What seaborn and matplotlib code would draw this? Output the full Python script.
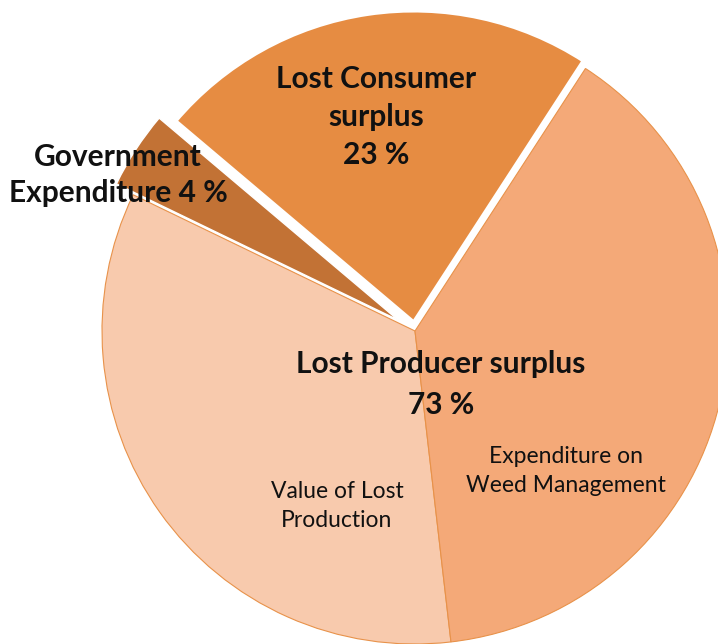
import matplotlib
matplotlib.use("Agg")
import matplotlib.pyplot as plt
import seaborn as sns

sns.set_theme(style="white")
plt.rcParams['font.family'] = ['Lato', 'DejaVu Sans']

# Data (shares of total cost, %)
segments = ["Lost Consumer surplus", "Government Expenditure",
            "Value of Lost Production", "Expenditure on Weed Management"]
shares = [23, 4, 34, 39]
colors = ["#E68C42", "#C27235", "#F8CAAD", "#F4A978"]
explode = [8, 20, 0, 0]

W, H = 718, 644
fig = plt.figure(figsize=(W / 100, H / 100), dpi=100)
ax = fig.add_axes([0, 0, 1, 1])

cx, cy, R = 415, H - 331, 313
wedges, _ = ax.pie(shares, colors=colors, explode=explode, startangle=57,
                   counterclock=True, center=(cx, cy), radius=R,
                   frame=True,
                   wedgeprops=dict(edgecolor="#E8924A", linewidth=0.8))
ax.set_xlim(0, W)
ax.set_ylim(0, H)
ax.set_aspect("equal")
ax.axis("off")
wedges[0].set_edgecolor("white")
wedges[0].set_linewidth(3.5)
wedges[1].set_edgecolor("white")
wedges[1].set_linewidth(1.0)

def T(x, y, s, size, weight="bold", ls=1.25):
    ax.text(x, H - y, s, ha="center", va="center", fontsize=size,
            fontweight=weight, color="#111111", linespacing=ls)

T(376, 117, "Lost Consumer\nsurplus\n23 %", 21.5, ls=1.45)
T(118, 175, "Government\nExpenditure 4 %", 21.5, ls=1.32)
T(441, 364, "Lost Producer surplus", 21.5)
T(441, 405, "73 %", 21.5)
T(566, 471, "Expenditure on\nWeed Management", 16.5, "normal", 1.5)
T(337, 506, "Value of Lost\nProduction", 16.5, "normal", 1.5)

fig.savefig("out.png", dpi=100, facecolor="white")
